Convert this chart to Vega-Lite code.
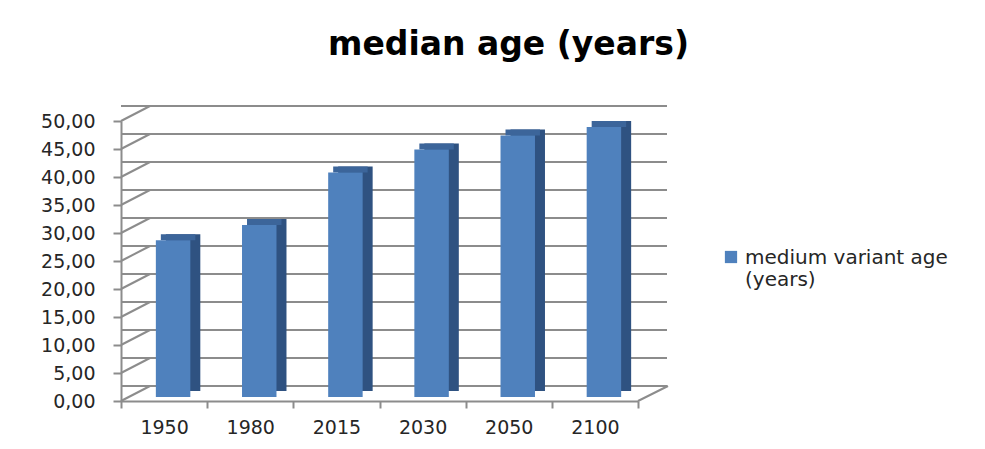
{
  "$schema": "https://vega.github.io/schema/vega-lite/v6.json",
  "width": 517,
  "height": 280,
  "autosize": {"type": "none"},
  "padding": {"left": 121, "top": 121, "right": 347, "bottom": 48},
  "background": "white",
  "title": {
    "text": "median age (years)",
    "font": "DejaVu Sans",
    "fontSize": 33,
    "fontWeight": "bold",
    "color": "#000000",
    "anchor": "middle",
    "frame": "group",
    "dx": 129,
    "offset": 17,
    "baseline": "alphabetic"
  },
  "config": {
    "view": {"stroke": null},
    "axis": {
      "labelFont": "DejaVu Sans",
      "labelFontSize": 19,
      "labelColor": "#262626",
      "domainColor": "#8c8c8c",
      "domainWidth": 2,
      "tickColor": "#8c8c8c",
      "tickWidth": 2,
      "grid": false,
      "title": null
    },
    "axisY": {"labelOverlap": false, "tickCount": 10}
  },
  "datasets": {
    "ages": [
      {"year": "1950", "age": 28.0, "series": "medium variant age (years)"},
      {"year": "1980", "age": 30.7, "series": "medium variant age (years)"},
      {"year": "2015", "age": 40.1, "series": "medium variant age (years)"},
      {"year": "2030", "age": 44.2, "series": "medium variant age (years)"},
      {"year": "2050", "age": 46.7, "series": "medium variant age (years)"},
      {"year": "2100", "age": 48.2, "series": "medium variant age (years)"}
    ],
    "grid": [
      {"v": 0}, {"v": 5}, {"v": 10}, {"v": 15}, {"v": 20}, {"v": 25},
      {"v": 30}, {"v": 35}, {"v": 40}, {"v": 45}, {"v": 50}
    ]
  },
  "layer": [
    {
      "data": {"name": "grid"},
      "mark": {"type": "rule", "color": "#8c8c8c", "strokeWidth": 2, "xOffset": 29, "x2Offset": 30, "yOffset": -15},
      "encoding": {
        "y": {
          "field": "v",
          "type": "quantitative",
          "scale": {"domain": [0, 50], "nice": false, "zero": true},
          "axis": {
            "tickCount": 10,
            "labelExpr": "replace(format(datum.value, '.2f'), '.', ',')",
            "labelOverlap": false,
            "tickSize": 8,
            "labelPadding": 18
          }
        }
      }
    },
    {
      "data": {"name": "grid"},
      "mark": {"type": "rule", "color": "#8c8c8c", "strokeWidth": 2, "x2Offset": 29, "y2Offset": -15},
      "encoding": {
        "x": {
          "datum": "1950",
          "type": "ordinal",
          "bandPosition": 0,
          "scale": {"domain": ["1950", "1980", "2015", "2030", "2050", "2100"], "paddingInner": 0, "paddingOuter": 0},
          "axis": {"labelAngle": 0, "labelAlign": "center", "bandPosition": 0.5, "tickBand": "extent", "tickSize": 7, "labelPadding": 10}
        },
        "x2": {"datum": "1950", "bandPosition": 0},
        "y": {"field": "v", "type": "quantitative"},
        "y2": {"field": "v"}
      }
    },
    {
      "data": {"values": [{"v": 0}]},
      "mark": {"type": "rule", "color": "#8c8c8c", "strokeWidth": 2, "x2Offset": 30, "y2Offset": -15},
      "encoding": {
        "x": {"datum": "2100", "type": "ordinal", "bandPosition": 1},
        "x2": {"datum": "2100", "bandPosition": 1},
        "y": {"field": "v", "type": "quantitative"},
        "y2": {"field": "v"}
      }
    },
    {
      "data": {"name": "ages"},
      "mark": {"type": "bar", "color": "#2f5281", "width": {"band": 0.4}, "xOffset": 19, "x2Offset": 19, "yOffset": -10, "y2Offset": -10},
      "encoding": {
        "x": {"field": "year", "type": "ordinal"},
        "y": {"field": "age", "type": "quantitative"}
      }
    },
    {
      "data": {"name": "ages"},
      "mark": {"type": "bar", "color": "#3c659a", "width": {"band": 0.4}, "xOffset": 14, "x2Offset": 14, "yOffset": -10, "y2Offset": -4},
      "encoding": {
        "x": {"field": "year", "type": "ordinal"},
        "y": {"field": "age", "type": "quantitative"},
        "y2": {"field": "age"}
      }
    },
    {
      "data": {"name": "ages"},
      "mark": {"type": "bar", "width": {"band": 0.4}, "xOffset": 9, "x2Offset": 9, "yOffset": -4, "y2Offset": -4},
      "encoding": {
        "x": {"field": "year", "type": "ordinal"},
        "y": {"field": "age", "type": "quantitative"},
        "color": {
          "field": "series",
          "type": "nominal",
          "scale": {"domain": ["medium variant age (years)"], "range": ["#4f81bd"]},
          "legend": {
            "title": null,
            "orient": "none",
            "legendX": 600,
            "legendY": 126,
            "symbolType": "square",
            "symbolSize": 150,
            "symbolStrokeWidth": 0,
            "labelFont": "DejaVu Sans",
            "labelFontSize": 20,
            "labelColor": "#262626",
            "labelLimit": 300,
            "labelBaseline": "alphabetic",
            "labelExpr": "['medium variant age', '(years)']",
            "encode": {"labels": {"update": {"dy": {"value": 7}}}}
          }
        }
      }
    }
  ]
}
